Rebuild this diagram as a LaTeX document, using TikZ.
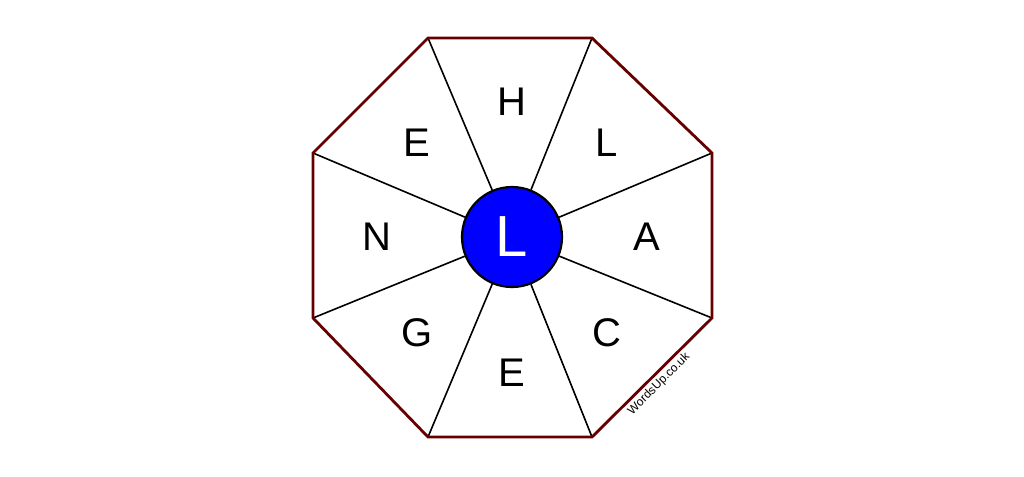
\documentclass[tikz,border=0pt]{standalone}
\usepackage{fontspec}
\setmainfont{Liberation Sans}
\definecolor{octred}{RGB}{102,0,0}
\definecolor{hubblue}{RGB}{0,0,255}
\begin{document}
\begin{tikzpicture}[x=1pt,y=-1pt,
  letter/.style={font=\fontsize{40}{48}\selectfont, inner sep=0pt, anchor=center},
  spoke/.style={draw=black, line width=1.6pt},
  rim/.style={draw=octred, line width=2.8pt, line join=miter},
  hub/.style={circle, draw=black, line width=2.2pt, fill=hubblue, minimum size=100pt, inner sep=0pt,
    text=white, font=\fontsize{58}{66}\selectfont}]
\useasboundingbox (0,0) rectangle (1024,476);
\coordinate (v1) at (428,38);
\coordinate (v2) at (592,38);
\coordinate (v3) at (712,153);
\coordinate (v4) at (712,318);
\coordinate (v5) at (592,437);
\coordinate (v6) at (428,437);
\coordinate (v7) at (313,318);
\coordinate (v8) at (313,153);
\node[hub] (c) at (512,237) {L};
\foreach \i in {1,...,8} \draw[spoke] (v\i) -- (c);
\draw[rim] (v1) -- (v2) -- (v3) -- (v4) -- (v5) -- (v6) -- (v7) -- (v8) -- cycle;
\node[letter] (lh) at (512,102) {H};
\node[letter] (ll) at (607,143) {L};
\node[letter] (la) at (647,237) {A};
\node[letter] (lc) at (607,333) {C};
\node[letter] (le1) at (512,373) {E};
\node[letter] (lg) at (417,333) {G};
\node[letter] (ln) at (377,237) {N};
\node[letter] (le2) at (417,143) {E};
\node[font=\fontsize{12}{14}\selectfont, inner sep=0pt, rotate=45] (wm) at (659,384) {WordsUp.co.uk};
\end{tikzpicture}
\end{document}
